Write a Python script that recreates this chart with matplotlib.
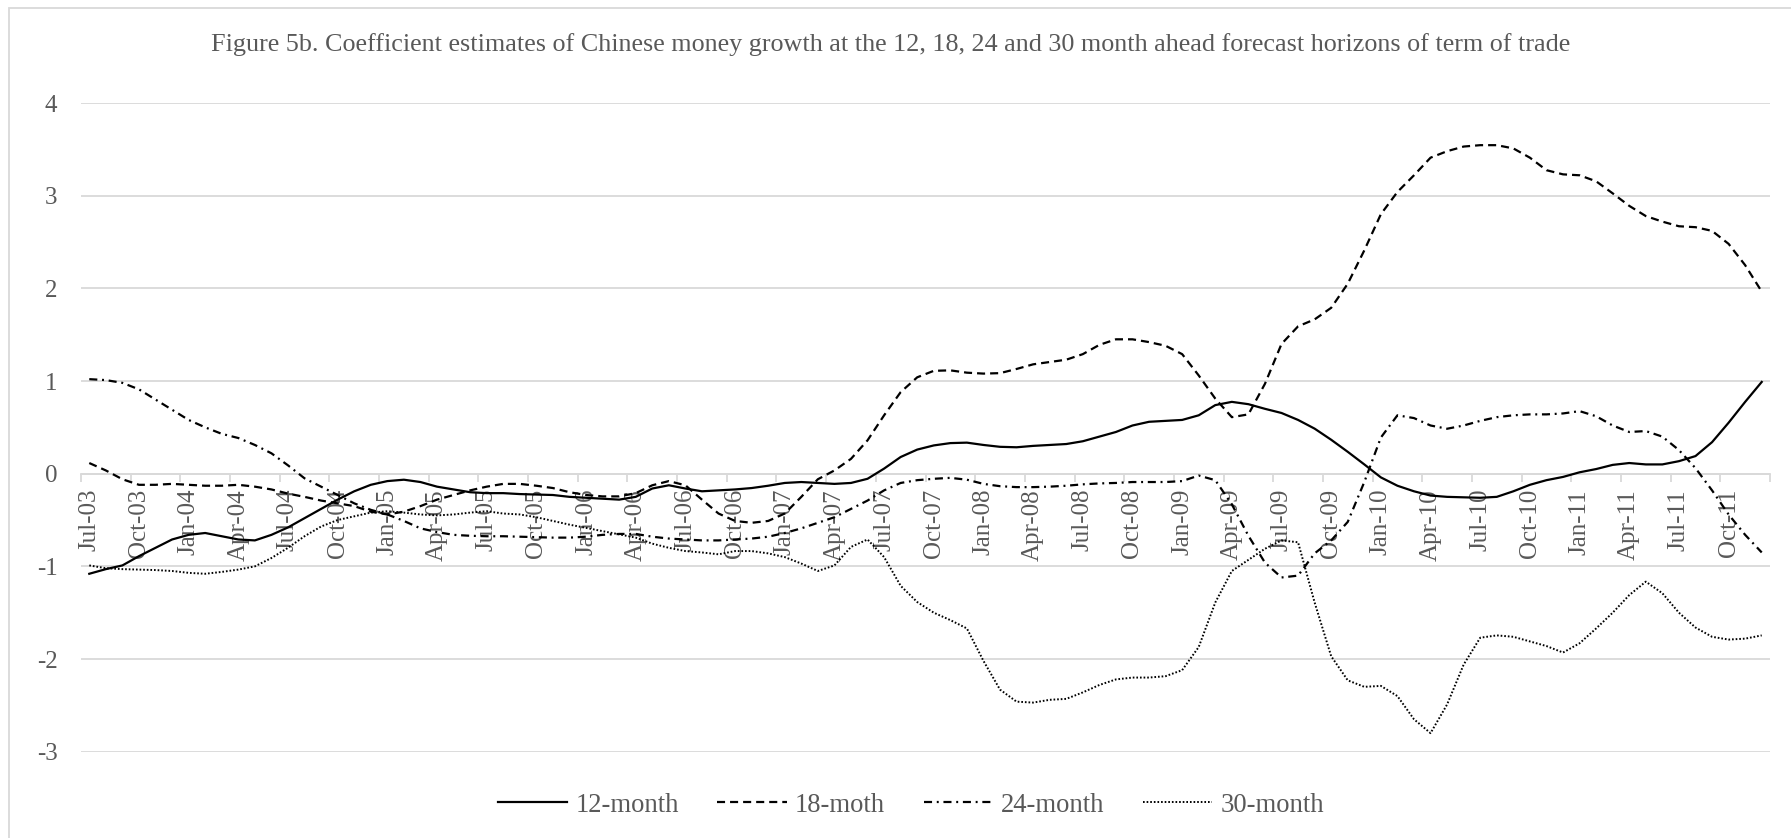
import matplotlib
matplotlib.use("Agg")
import matplotlib.pyplot as plt
import matplotlib.patches as mpatches
import numpy as np
import pandas as pd

plt.rcParams['font.family'] = ['Liberation Serif', 'DejaVu Serif']
plt.rcParams['lines.scale_dashes'] = False

# ---------------- data ----------------
months = list(pd.date_range('2003-07-01', periods=102, freq='MS').strftime('%b-%y'))

m12 = [-1.08, -1.03, -0.99, -0.89, -0.80, -0.71, -0.66, -0.64, -0.675, -0.71,
       -0.72, -0.66, -0.58, -0.48, -0.38, -0.28, -0.19, -0.12, -0.08, -0.065,
       -0.09, -0.14, -0.17, -0.20, -0.21, -0.21, -0.22, -0.225, -0.23, -0.25,
       -0.26, -0.27, -0.28, -0.25, -0.16, -0.125, -0.16, -0.19, -0.18, -0.17,
       -0.155, -0.13, -0.10, -0.09, -0.10, -0.11, -0.10, -0.055, 0.055, 0.18,
       0.26, 0.305, 0.33, 0.335, 0.31, 0.29, 0.285, 0.30, 0.31, 0.32,
       0.35, 0.40, 0.45, 0.52, 0.56, 0.57, 0.58, 0.63, 0.74, 0.775,
       0.75, 0.70, 0.655, 0.58, 0.486, 0.366, 0.236, 0.10, -0.04, -0.13,
       -0.19, -0.236, -0.25, -0.255, -0.26, -0.25, -0.19, -0.12, -0.07, -0.035,
       0.015, 0.05, 0.095, 0.115, 0.10, 0.10, 0.135, 0.19, 0.34, 0.55,
       0.775, 0.99]

m18 = [0.115, 0.035, -0.06, -0.12, -0.12, -0.11, -0.12, -0.13, -0.13, -0.12,
       -0.14, -0.17, -0.215, -0.25, -0.29, -0.32, -0.35, -0.41, -0.44, -0.41,
       -0.35, -0.28, -0.23, -0.18, -0.14, -0.11, -0.11, -0.13, -0.155, -0.20,
       -0.23, -0.245, -0.245, -0.21, -0.125, -0.08, -0.125, -0.28, -0.43, -0.51,
       -0.53, -0.51, -0.43, -0.25, -0.06, 0.035, 0.16, 0.36, 0.63, 0.88,
       1.04, 1.11, 1.115, 1.09, 1.08, 1.085, 1.13, 1.18, 1.205, 1.23,
       1.29, 1.39, 1.45, 1.45, 1.42, 1.38, 1.29, 1.06, 0.81, 0.61,
       0.64, 0.97, 1.40, 1.59, 1.665, 1.79, 2.05, 2.41, 2.80, 3.04,
       3.22, 3.41, 3.48, 3.53, 3.545, 3.545, 3.51, 3.41, 3.275, 3.23,
       3.22, 3.155, 3.025, 2.89, 2.78, 2.72, 2.67, 2.66, 2.62, 2.48,
       2.25, 1.965]

m24 = [1.02, 1.01, 0.98, 0.91, 0.80, 0.69, 0.58, 0.50, 0.43, 0.385,
       0.31, 0.22, 0.09, -0.05, -0.14, -0.23, -0.32, -0.39, -0.44, -0.51,
       -0.59, -0.63, -0.66, -0.67, -0.675, -0.675, -0.68, -0.685, -0.69, -0.69,
       -0.68, -0.66, -0.65, -0.65, -0.68, -0.70, -0.71, -0.72, -0.72, -0.71,
       -0.70, -0.68, -0.64, -0.59, -0.53, -0.47, -0.38, -0.29, -0.18, -0.10,
       -0.07, -0.055, -0.045, -0.065, -0.11, -0.135, -0.145, -0.145, -0.14, -0.13,
       -0.115, -0.105, -0.10, -0.09, -0.09, -0.09, -0.08, -0.02, -0.07, -0.33,
       -0.67, -0.96, -1.12, -1.10, -0.86, -0.72, -0.52, -0.09, 0.39, 0.63,
       0.60, 0.52, 0.485, 0.52, 0.57, 0.61, 0.63, 0.64, 0.64, 0.65,
       0.675, 0.62, 0.52, 0.45, 0.46, 0.40, 0.255, 0.06, -0.18, -0.44,
       -0.66, -0.85]

m30 = [-0.99, -1.02, -1.03, -1.035, -1.04, -1.05, -1.07, -1.08, -1.06, -1.035,
       -1.0, -0.91, -0.80, -0.675, -0.57, -0.50, -0.46, -0.42, -0.405, -0.42,
       -0.44, -0.45, -0.44, -0.42, -0.405, -0.43, -0.44, -0.47, -0.51, -0.55,
       -0.585, -0.62, -0.655, -0.69, -0.755, -0.80, -0.835, -0.85, -0.87, -0.835,
       -0.835, -0.86, -0.90, -0.97, -1.05, -0.99, -0.79, -0.71, -0.90, -1.21,
       -1.385, -1.50, -1.58, -1.67, -2.02, -2.33, -2.46, -2.47, -2.44, -2.43,
       -2.36, -2.28, -2.22, -2.20, -2.20, -2.185, -2.12, -1.87, -1.39, -1.05,
       -0.93, -0.81, -0.72, -0.74, -1.39, -1.97, -2.23, -2.30, -2.29, -2.40,
       -2.65, -2.80, -2.49, -2.06, -1.77, -1.745, -1.76, -1.81, -1.86, -1.93,
       -1.83, -1.67, -1.50, -1.31, -1.165, -1.29, -1.50, -1.66, -1.76, -1.79,
       -1.78, -1.745]

series_names = ['12-month', '18-moth', '24-month', '30-month']
title = ('Figure 5b. Coefficient estimates of Chinese money growth at the 12, 18, 24 '
         'and 30 month ahead forecast horizons of term of trade')
yticks = [-3, -2, -1, 0, 1, 2, 3, 4]

# ---------------- figure ----------------
W, H = 1791, 838
fig = plt.figure(figsize=(W / 100, H / 100), dpi=100)
ax = fig.add_axes([81 / W, 1 - 751.7 / H, (1770 - 81) / W, (751.7 - 103) / H])

TXT = '#595959'
GRID = '#d9d9d9'

x = np.arange(len(months))
ax.plot(x, m12, color='black', lw=1.6, linestyle='-', label=series_names[0], zorder=4)
ax.plot(x, m18, color='black', lw=1.6, linestyle=(0, (5.8, 3.6)), label=series_names[1], zorder=4)
ax.plot(x, m24, color='black', lw=1.6, linestyle=(0, (5.8, 3.4, 1.4, 3.4)), label=series_names[2], zorder=4)
ax.plot(x, m30, color='black', lw=1.4, linestyle=(0, (1.2, 1.4)), label=series_names[3], zorder=4)

ax.set_xlim(-0.5, len(months) - 0.5)
ax.set_ylim(-3, 4)

# grid
ax.set_yticks(yticks)
ax.set_yticklabels([str(v) for v in yticks])
ax.yaxis.grid(True, color=GRID, lw=1.3)
ax.set_axisbelow(True)
ax.tick_params(axis='y', length=0, pad=17, labelsize=18, labelcolor=TXT)

for s in ['left', 'right', 'top']:
    ax.spines[s].set_visible(False)
ax.spines['bottom'].set_position(('data', 0))
ax.spines['bottom'].set_color(GRID)
ax.spines['bottom'].set_linewidth(1.3)
ax.spines['bottom'].set_zorder(1)

# x ticks: marks at boundaries every 3 months, labels at category centres
ax.set_xticks(np.arange(-0.5, len(months), 3))
ax.set_xticklabels([])
ax.tick_params(axis='x', which='major', length=5.5, width=1.3, color=GRID, direction='out')
ax.set_xticks(x[::3], minor=True)
ax.set_xticklabels(months[::3], minor=True, rotation=90, fontsize=18, color=TXT,
                   va='top', ha='center')
ax.tick_params(axis='x', which='minor', length=0, pad=11)

# title
fig.text(0.497, 1 - 45 / H, title, ha='center', va='center', fontsize=18.8, color=TXT)

# legend
leg = fig.legend(loc='center', bbox_to_anchor=(911 / W, 1 - 805 / H), ncol=4,
                 frameon=False, fontsize=19.2, handlelength=2.6, handletextpad=0.3,
                 columnspacing=1.45)
for t in leg.get_texts():
    t.set_color(TXT)

# chart border
fig.add_artist(mpatches.Rectangle((9 / W, -0.1), 1.2, 1.1 - 8 / H, transform=fig.transFigure,
                                  fill=False, edgecolor=GRID, lw=1.3))

fig.savefig('out.png', dpi=100)
